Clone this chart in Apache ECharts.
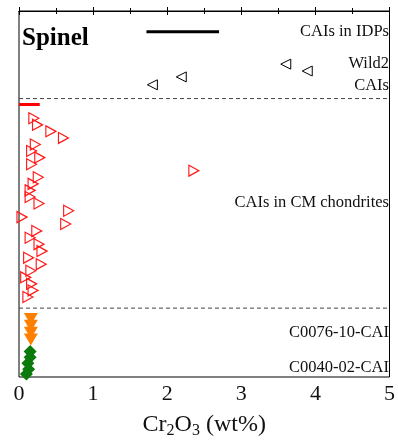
<!DOCTYPE html>
<html>
<head>
<meta charset="utf-8">
<script src="https://cdn.jsdelivr.net/npm/echarts@6/dist/echarts.min.js"></script>
<style>
  html, body { margin: 0; padding: 0; background: #fff; }
  #chart { width: 398px; height: 444px; }
</style>
</head>
<body>
<div id="chart"></div>
<script>
// y is a row position from the top of the plot (no y scale in the figure)
const xTicks = [0, 1, 2, 3, 4, 5]

// CAIs in IDPs (range bar)
const idpRange = [1.72, 2.70]
const idpRow = 21

// Wild2 CAIs
const wild2X = [1.80, 2.19, 3.60, 3.89]
const wild2Y = [75, 67, 54, 61]

// CAIs in CM chondrites
const cmBarRange = [0, 0.28]
const cmBarRow = 95
const cmX = [0.20, 0.25, 0.43, 0.60, 0.22, 0.17, 0.28, 0.17, 2.36, 0.26, 0.19, 0.15, 0.15, 0.27,
  0.67, 0.04, 0.63, 0.24, 0.15, 0.27, 0.31, 0.13, 0.30, 0.16, 0.09, 0.17, 0.19, 0.12]
const cmY = [109, 115.7, 122.3, 129, 135.7, 142.3, 149, 155.7, 162.3, 169, 175.7, 182.3, 189, 195.7,
  203, 209.5, 216.5, 223.5, 230.5, 237, 244, 250.7, 257.3, 264, 270.7, 277.3, 284, 290.7]

// C0076-10-CAI
const c0076X = [0.16, 0.16, 0.16, 0.16]
const c0076Y = [313, 320, 327, 334]

// C0040-02-CAI
const c0040X = [0.15, 0.15, 0.12, 0.13, 0.10]
const c0040Y = [346, 352, 358, 364, 369]

// group separators
const sepRows = [89, 302]
const rowMax = 372

const serif = "Liberation Serif"

function pairs(xs, ys) {
  return xs.map((x, i) => [x, ys[i]])
}

const chart = echarts.init(document.getElementById("chart"))

const series = []

sepRows.forEach((r) => {
  series.push({
    type: "line",
    data: [[0, r], [5, r]],
    symbol: "none",
    silent: true,
    lineStyle: { color: "#444", width: 1, type: [4, 3] }
  })
})

series.push({
  type: "line",
  data: [[idpRange[0], idpRow], [idpRange[1], idpRow]],
  symbol: "none",
  lineStyle: { color: "#000", width: 3 }
})
series.push({
  type: "line",
  data: [[cmBarRange[0], cmBarRow], [cmBarRange[1], cmBarRow]],
  symbol: "none",
  lineStyle: { color: "#ff0000", width: 3 }
})

series.push({
  type: "scatter",
  data: pairs(wild2X, wild2Y),
  symbol: "triangle",
  symbolRotate: 90,
  symbolSize: [10, 10],
  itemStyle: { color: "rgba(0,0,0,0)", borderColor: "#000", borderWidth: 1, opacity: 1 }
})
series.push({
  type: "scatter",
  data: pairs(cmX, cmY),
  symbol: "triangle",
  symbolRotate: -90,
  symbolSize: [11, 10],
  itemStyle: { color: "rgba(0,0,0,0)", borderColor: "#ff1a1a", borderWidth: 1.2, opacity: 1 }
})
series.push({
  type: "scatter",
  data: pairs(c0076X, c0076Y),
  symbol: "triangle",
  symbolRotate: 180,
  symbolSize: [14, 12],
  itemStyle: { color: "#ff8000", opacity: 1 }
})
series.push({
  type: "scatter",
  data: pairs(c0040X, c0040Y),
  symbol: "diamond",
  symbolSize: [13, 13],
  itemStyle: { color: "#0a7a0a", opacity: 1 }
})

const axisBase = {
  type: "value",
  min: 0,
  max: 5,
  interval: 1,
  axisLine: { show: true, lineStyle: { color: "#000", width: 1 } },
  axisTick: { show: true, inside: true, length: 4, lineStyle: { color: "#000" } },
  minorTick: { show: true, splitNumber: 2, length: 3, lineStyle: { color: "#000" } },
  splitLine: { show: false }
}

const option = {
  animation: false,
  grid: { left: 19, right: 7, top: 11, bottom: 61, show: true, borderColor: "#000", borderWidth: 1 },
  xAxis: [
    Object.assign({}, axisBase, {
      position: "bottom",
      name: "{n|Cr}{s|2}{n|O}{s|3}{n| (wt%)}",
      nameLocation: "middle",
      nameGap: 34,
      nameTextStyle: {
        rich: {
          n: { fontFamily: serif, fontSize: 24, color: "#111" },
          s: { fontFamily: serif, fontSize: 16, color: "#111", verticalAlign: "bottom", padding: [12, 0, 0, 0] }
        }
      },
      axisLabel: {
        margin: 6,
        fontFamily: serif,
        fontSize: 22,
        color: "#111",
        formatter: (v) => (xTicks.includes(v) ? String(v) : "")
      }
    }),
    Object.assign({}, axisBase, { position: "top", axisLabel: { show: false } })
  ],
  yAxis: {
    type: "value",
    min: 0,
    max: rowMax,
    inverse: true,
    show: false
  },
  graphic: [
    { type: "text", left: 22, top: 26, style: { text: "Spinel", font: "bold 25px " + serif, fill: "#000" } },
    { type: "text", x: 389, y: 32, style: { text: "CAIs in IDPs", font: "16.5px " + serif, fill: "#111", align: "right", verticalAlign: "middle" } },
    { type: "text", x: 389, y: 64, style: { text: "Wild2", font: "16.5px " + serif, fill: "#111", align: "right", verticalAlign: "middle" } },
    { type: "text", x: 389, y: 86, style: { text: "CAIs", font: "16.5px " + serif, fill: "#111", align: "right", verticalAlign: "middle" } },
    { type: "text", x: 389, y: 203, style: { text: "CAIs in CM chondrites", font: "16.5px " + serif, fill: "#111", align: "right", verticalAlign: "middle" } },
    { type: "text", x: 389, y: 333, style: { text: "C0076-10-CAI", font: "16.5px " + serif, fill: "#111", align: "right", verticalAlign: "middle" } },
    { type: "text", x: 389, y: 368, style: { text: "C0040-02-CAI", font: "16.5px " + serif, fill: "#111", align: "right", verticalAlign: "middle" } }
  ],
  series: series
}

chart.setOption(option)
</script>
</body>
</html>
